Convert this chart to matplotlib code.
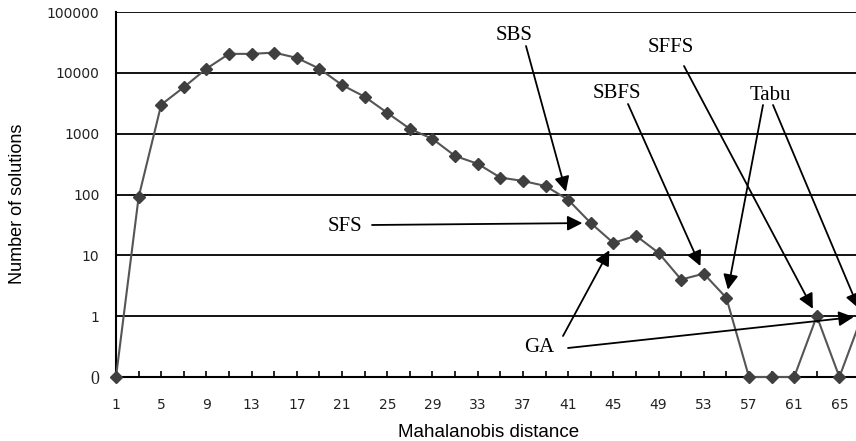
import numpy as np
import matplotlib.pyplot as plt

# Mahalanobis distance (odd values 1..67) and number of solutions
dist = np.arange(1, 68, 2)
counts = [0, 90, 3000, 5800, 11700, 20500, 20500, 21500, 17600, 11700,
          6300, 4050, 2200, 1200, 820, 430, 320, 190, 167, 138,
          82, 34, 16, 21, 11, 4, 5, 2, 0, 0,
          0, 1, 0, 1]

ytick_vals = [0, 1, 10, 100, 1000, 10000, 100000]
ytick_labels = ['0', '1', '10', '100', '1000', '10000', '100000']
xtick_major = list(range(1, 66, 4))

# labels: (text, text centre in figure pixels from top-left, list of target distances)
labels = [
    ('SBS', (514, 36), [41]),
    ('SFFS', (671, 47), [63]),
    ('SBFS', (617, 93), [53]),
    ('Tabu', (770, 95), [55, 67]),
    ('SFS', (345, 226), [43]),
    ('GA', (539, 347), [45, 67]),
]
# arrow start points (figure pixels, top-left origin)
arrow_starts = {
    ('SBS', 41): (526, 46),
    ('SFFS', 63): (684, 66),
    ('SBFS', 53): (628, 104),
    ('Tabu', 55): (763, 105),
    ('Tabu', 67): (773, 105),
    ('SFS', 43): (372, 225),
    ('GA', 45): (563, 336),
    ('GA', 67): (568, 348),
}


# 0 sits one decade below 1, then log decades
def fwd(v):
    v = np.asarray(v, dtype=float)
    return np.where(v <= 1, v, np.log10(np.maximum(v, 1)) + 1)


def inv(p):
    p = np.asarray(p, dtype=float)
    return np.where(p <= 1, p, 10 ** (np.maximum(p, 1) - 1))


W, H = 856, 441
fig = plt.figure(figsize=(W / 100, H / 100), dpi=100)
ax = fig.add_axes([116 / W, 1 - 377 / H, (862 - 116) / W, (377 - 12) / H])
ax.set_yscale('function', functions=(fwd, inv))
ax.set_xlim(1, 67)
ax.set_ylim(0, 100000)

ax.plot(dist, counts, color='#555555', lw=1.5, marker='D', ms=6.5,
        mfc='#3f3f3f', mec='#3f3f3f', clip_on=False, zorder=3)

# grid lines
for v in ytick_vals[1:]:
    ax.axhline(v, color='black', lw=1.3, zorder=1)

ax.set_yticks(ytick_vals)
ax.set_yticklabels(ytick_labels, fontsize=10, color='#222222')
ax.get_yticklabels()[0].set_fontfamily('Liberation Serif')
ax.get_yticklabels()[0].set_fontsize(13)
ax.tick_params(axis='y', length=0, pad=12)

ax.set_xticks(dist, minor=True)
ax.set_xticks(xtick_major)
ax.set_xticklabels([str(x) for x in xtick_major], fontsize=10, color='#222222')
ax.tick_params(axis='x', which='both', direction='in', length=4, width=1.2, pad=15)

for s in ['top', 'right']:
    ax.spines[s].set_visible(False)
ax.spines['left'].set_linewidth(1.5)
ax.spines['bottom'].set_linewidth(1.5)

ax.set_xlabel('Mahalanobis distance', family='Liberation Sans', fontsize=13.5, labelpad=9)
fig.text(18 / W, 1 - 204 / H, 'Number of solutions', family='Liberation Sans',
         fontsize=13, rotation=90, ha='center', va='center')

count_at = dict(zip(dist, counts))
for text, (tx, ty), targets in labels:
    fig.text(tx / W, 1 - ty / H, text, family='Liberation Serif', fontsize=15,
             ha='center', va='center')
    for t in targets:
        sx, sy = arrow_starts[(text, t)]
        ax.annotate('', xy=(t, count_at[t]), xycoords='data',
                    xytext=(sx, H - sy), textcoords='figure pixels',
                    arrowprops=dict(arrowstyle='-|>,head_length=0.9,head_width=0.45',
                                    color='black', lw=1.3, shrinkA=0, shrinkB=6),
                    annotation_clip=False)

fig.savefig('out.png', dpi=100)
